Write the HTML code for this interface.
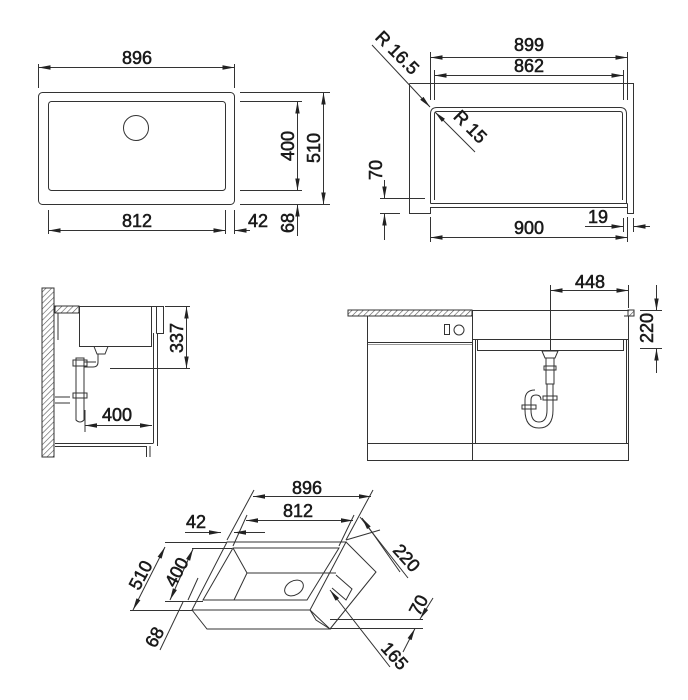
<!DOCTYPE html>
<html><head><meta charset="utf-8"><style>
html,body{margin:0;padding:0;background:#fff;}
svg{display:block;}
text{font-family:"Liberation Sans",sans-serif;font-size:18px;fill:#1a1a1a;text-anchor:middle;stroke:#1a1a1a;stroke-width:0.55;}
</style></head><body>
<svg width="688" height="700" viewBox="0 0 688 700" xmlns="http://www.w3.org/2000/svg">
<defs>
<marker id="a" viewBox="0 0 12 6" refX="12" refY="3" markerWidth="12" markerHeight="6" orient="auto-start-reverse" markerUnits="userSpaceOnUse"><path d="M0,0.8 L12,3 L0,5.2z" fill="#222"/></marker>
<pattern id="h" width="4" height="4" patternUnits="userSpaceOnUse" patternTransform="rotate(45)"><rect width="4" height="4" fill="#fff"/><line x1="0" y1="0" x2="0" y2="4" stroke="#555" stroke-width="1.2"/></pattern>
</defs>
<g fill="none" stroke="#333" stroke-width="1">
<rect x="38.5" y="92.5" width="196" height="112" rx="4"/>
<rect x="48.5" y="101.5" width="177" height="89" rx="3"/>
<circle cx="136" cy="128" r="12.5"/>
<line x1="38.5" y1="64" x2="38.5" y2="88"/><line x1="234.5" y1="64" x2="234.5" y2="88"/>
<line x1="38.5" y1="67.5" x2="234.5" y2="67.5" marker-start="url(#a)" marker-end="url(#a)"/>
<line x1="48.5" y1="210" x2="48.5" y2="234"/><line x1="225.5" y1="210" x2="225.5" y2="234"/><line x1="234.5" y1="210" x2="234.5" y2="234"/>
<line x1="48.5" y1="230.5" x2="225.5" y2="230.5" marker-start="url(#a)" marker-end="url(#a)"/>
<line x1="250" y1="230.5" x2="234.5" y2="230.5" marker-end="url(#a)"/>
<line x1="240" y1="92.5" x2="330" y2="92.5"/><line x1="240" y1="101.5" x2="302" y2="101.5"/>
<line x1="240" y1="190.5" x2="302" y2="190.5"/><line x1="240" y1="204.5" x2="330" y2="204.5"/>
<line x1="297.5" y1="101.5" x2="297.5" y2="190.5" marker-start="url(#a)" marker-end="url(#a)"/>
<line x1="323.5" y1="92.5" x2="323.5" y2="204.5" marker-start="url(#a)" marker-end="url(#a)"/>
<line x1="297.5" y1="236" x2="297.5" y2="204.5" marker-end="url(#a)"/>
<path d="M409.5,83.5 H633.5 V213.5 H627.5 V203.5"/>
<path d="M409.5,83.5 V213.5 H430.5 V207"/>
<path d="M430.5,203.5 V114 Q430.5,107.5 437,107.5 H620 Q626.5,107.5 626.5,114 V203.5"/>
<path d="M434.5,200 V114 Q434.5,111.5 437,111.5 H620 Q622.5,111.5 622.5,114 V200"/>
<line x1="430.5" y1="203.5" x2="627.5" y2="203.5"/><line x1="430.5" y1="207.5" x2="627.5" y2="207.5"/>
<line x1="430.5" y1="52" x2="430.5" y2="100"/><line x1="627.5" y1="52" x2="627.5" y2="100"/>
<line x1="430.5" y1="57.5" x2="627.5" y2="57.5" marker-start="url(#a)" marker-end="url(#a)"/>
<line x1="434.5" y1="70" x2="434.5" y2="100"/><line x1="623.5" y1="70" x2="623.5" y2="100"/>
<line x1="434.5" y1="75.5" x2="623.5" y2="75.5" marker-start="url(#a)" marker-end="url(#a)"/>
<line x1="372" y1="45" x2="430" y2="107" marker-end="url(#a)"/>
<line x1="475" y1="152" x2="435" y2="112" marker-end="url(#a)"/>
<line x1="380" y1="198.5" x2="425" y2="198.5"/><line x1="380" y1="213.5" x2="400" y2="213.5"/>
<line x1="384.5" y1="180" x2="384.5" y2="198.5" marker-end="url(#a)"/>
<line x1="384.5" y1="240" x2="384.5" y2="213.5" marker-end="url(#a)"/>
<line x1="430.5" y1="217" x2="430.5" y2="242"/><line x1="627.5" y1="217" x2="627.5" y2="242"/>
<line x1="430.5" y1="237.5" x2="627.5" y2="237.5" marker-start="url(#a)" marker-end="url(#a)"/>
<line x1="623.5" y1="218" x2="623.5" y2="232"/><line x1="633.5" y1="218" x2="633.5" y2="232"/>
<line x1="585" y1="226.5" x2="623.5" y2="226.5" marker-end="url(#a)"/>
<line x1="650" y1="226.5" x2="633.5" y2="226.5" marker-end="url(#a)"/>
<rect x="42" y="288" width="12" height="169" fill="url(#h)"/>
<rect x="55" y="306" width="24" height="7" fill="url(#h)"/>
<line x1="58" y1="313" x2="58" y2="340"/>
<rect x="79.5" y="306.5" width="72" height="40"/>
<path d="M151.5,306.5 H163.5 V333.5 H156.5"/><line x1="156.5" y1="306.5" x2="156.5" y2="333.5"/>
<line x1="153.5" y1="333" x2="153.5" y2="443"/><line x1="157.5" y1="333" x2="157.5" y2="446"/>
<line x1="55" y1="443.5" x2="153.5" y2="443.5"/>
<path d="M55,446.5 H146.5 V457"/><line x1="150" y1="446" x2="150" y2="457"/>
<path d="M94,346.5 L97,354 H105 L108,346.5"/>
<path d="M98,354 V362 Q98,367 93,367 H84 V362 H96"/>
<path d="M76,358 H84 V420 Q80,424 76,420 Z"/>
<rect x="73" y="360" width="14" height="6"/><rect x="73" y="393" width="14" height="5"/>
<path d="M55,397 H70 M55,403 H70"/>
<line x1="110" y1="368.5" x2="190" y2="368.5"/><line x1="165" y1="306.5" x2="190" y2="306.5"/>
<line x1="186.5" y1="306.5" x2="186.5" y2="368.5" marker-start="url(#a)" marker-end="url(#a)"/>
<line x1="85" y1="410" x2="85" y2="432"/>
<line x1="85" y1="425.5" x2="152" y2="425.5" marker-start="url(#a)" marker-end="url(#a)"/>
<rect x="348" y="310" width="124" height="6" fill="url(#h)"/>
<rect x="628" y="310" width="6" height="6" fill="url(#h)"/>
<line x1="472" y1="310.5" x2="628" y2="310.5"/>
<path d="M367.5,316 V460.5 H628.5 V339"/>
<line x1="472.5" y1="316" x2="472.5" y2="460.5"/>
<line x1="367.5" y1="342.5" x2="472.5" y2="342.5"/><line x1="367.5" y1="344.5" x2="472.5" y2="344.5" stroke-width="0.6"/>
<line x1="367.5" y1="443.5" x2="628.5" y2="443.5"/>
<rect x="444.5" y="324.5" width="5" height="10"/><circle cx="459" cy="330" r="5"/>
<path d="M472.5,310.5 V339.5 H628.5 V316 H624"/>
<path d="M477.5,339.5 V350.5 H623.5 V339.5"/>
<path d="M475.5,340 V443.5 M626.5,340 V443.5"/>
<path d="M542,351 L545,358 H555 L558,351 Z"/>
<rect x="546" y="358" width="8" height="26"/><rect x="544" y="366" width="12" height="4"/>
<path d="M547,384 V410 Q547,422 539,422 Q531,422 531,410 V400 Q531,395 536,395 Q541,395 541,400"/>
<path d="M553,384 V410 Q553,428 539,428 Q525,428 525,410 V400 Q525,390 535,390"/>
<rect x="543" y="396" width="14" height="4"/><rect x="522" y="405" width="14" height="4"/>
<line x1="550.5" y1="285" x2="550.5" y2="351"/><line x1="628.5" y1="285" x2="628.5" y2="308"/>
<line x1="550.5" y1="290.5" x2="628.5" y2="290.5" marker-start="url(#a)" marker-end="url(#a)"/>
<line x1="640" y1="310.5" x2="662" y2="310.5"/><line x1="640" y1="348.5" x2="662" y2="348.5"/>
<line x1="656.5" y1="285" x2="656.5" y2="310.5" marker-end="url(#a)"/>
<line x1="656.5" y1="373" x2="656.5" y2="348.5" marker-end="url(#a)"/>
<path d="M227,542 H346 L310,610 H192 Z"/>
<path d="M233,548 H339 L307,600 H203 Z"/>
<path d="M233,548 L247,573 H336 M247,573 L234,600"/>
<path d="M192,610 L207,629 H330 L310,610"/>
<path d="M330,629 L376,572 L346,542"/>
<path d="M310,610 L316,620 L330,629"/>
<path d="M336,575 L352,589 L346,600 L332,588"/>
<ellipse cx="294" cy="588" rx="10" ry="7" transform="rotate(-30 294 588)"/>
<line x1="227" y1="540" x2="254" y2="490"/><line x1="346" y1="540" x2="373" y2="490"/>
<line x1="253" y1="496.5" x2="371" y2="496.5" marker-start="url(#a)" marker-end="url(#a)"/>
<line x1="233" y1="546" x2="247" y2="515"/><line x1="339" y1="546" x2="354" y2="515"/>
<line x1="246" y1="520.5" x2="353" y2="520.5" marker-start="url(#a)" marker-end="url(#a)"/>
<line x1="185" y1="532.5" x2="221" y2="532.5" marker-end="url(#a)"/>
<line x1="265" y1="532.5" x2="234" y2="532.5" marker-end="url(#a)"/>
<line x1="165" y1="542.5" x2="227" y2="542.5"/><line x1="192" y1="548.5" x2="232" y2="548.5"/>
<line x1="130" y1="610.5" x2="192" y2="610.5"/><line x1="165" y1="601.5" x2="203" y2="601.5"/>
<line x1="165" y1="547" x2="133" y2="610" marker-start="url(#a)" marker-end="url(#a)"/>
<line x1="193" y1="549" x2="170" y2="600" marker-start="url(#a)" marker-end="url(#a)"/>
<line x1="198" y1="578" x2="188" y2="600"/>
<line x1="160" y1="650" x2="183" y2="602"/>
<line x1="360" y1="517" x2="408" y2="578"/>
<line x1="346" y1="540" x2="380" y2="530"/>
<line x1="362" y1="518" x2="400" y2="572" marker-start="url(#a)"/>
<line x1="330" y1="590" x2="390" y2="667" marker-start="url(#a)"/>
<line x1="330" y1="619.5" x2="423" y2="619.5"/><line x1="330" y1="628.5" x2="423" y2="628.5"/>
<line x1="433" y1="598" x2="420" y2="619" marker-end="url(#a)"/>
<line x1="403" y1="652" x2="415" y2="628.5" marker-end="url(#a)"/>
</g>
<text x="137" y="64">896</text>
<text x="137" y="227">812</text>
<text x="258" y="227">42</text>
<text transform="translate(294,146) rotate(-90)">400</text>
<text transform="translate(320,148) rotate(-90)">510</text>
<text transform="translate(294,223) rotate(-90)">68</text>
<text x="529" y="51">899</text>
<text x="529" y="72">862</text>
<text transform="translate(393,57) rotate(45)">R 16.5</text>
<text transform="translate(466,131) rotate(45)">R 15</text>
<text transform="translate(382,170) rotate(-90)">70</text>
<text x="529" y="234">900</text>
<text x="598" y="223">19</text>
<text transform="translate(183,338) rotate(-90)">337</text>
<text x="117" y="421">400</text>
<text x="590" y="288">448</text>
<text transform="translate(653,328) rotate(-90)">220</text>
<text x="307" y="494">896</text>
<text x="298" y="517">812</text>
<text x="196" y="528">42</text>
<text transform="translate(146,578) rotate(-62)">510</text>
<text transform="translate(182,575) rotate(-62)">400</text>
<text transform="translate(160,640) rotate(-62)">68</text>
<text transform="translate(402,562) rotate(48)">220</text>
<text transform="translate(390,660) rotate(48)">165</text>
<text transform="translate(424,608) rotate(-62)">70</text>
</svg>
</body></html>
